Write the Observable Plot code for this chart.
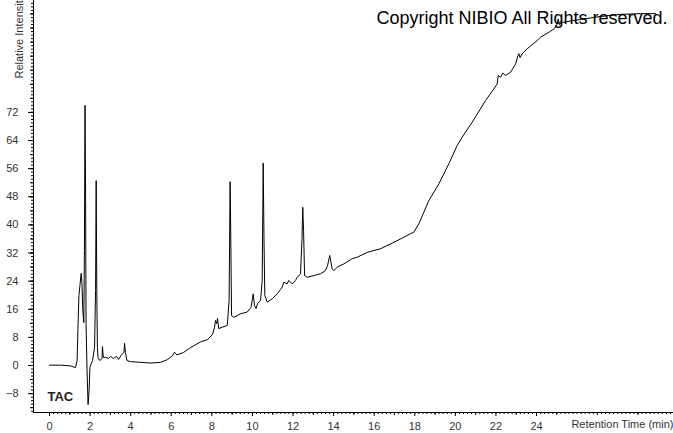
<!DOCTYPE html>
<html>
<head>
<meta charset="utf-8">
<script src="https://cdn.jsdelivr.net/npm/d3@7"></script>
<script src="https://cdn.jsdelivr.net/npm/@observablehq/plot@0.6"></script>
<style>
  html, body { margin: 0; padding: 0; background: #fff; }
  #chart svg { display: block; }
</style>
</head>
<body>
<div id="chart"></div>
<script>
// Retention time (min)
const retentionTime = [
  0, 0.54, 1.03, 1.28, 1.36, 1.40, 1.45, 1.50, 1.56, 1.60, 1.64, 1.69, 1.72, 1.75, 1.78, 1.80,
  1.85, 1.90, 1.95, 1.99, 2.06, 2.12, 2.22, 2.27, 2.30, 2.33, 2.36, 2.39, 2.48, 2.59, 2.61, 2.65,
  2.76, 2.91, 3.01, 3.15, 3.30, 3.40, 3.55, 3.67, 3.70, 3.74, 3.82, 3.99, 4.48, 4.98, 5.47, 5.82,
  6.06, 6.16, 6.28, 6.60, 6.95, 7.44, 7.79, 8.03, 8.13, 8.18, 8.24, 8.28, 8.34, 8.51, 8.76, 8.85,
  8.90, 8.94, 8.97, 9.08, 9.25, 9.41, 9.74, 9.93, 10.04, 10.10, 10.18, 10.25, 10.40, 10.48, 10.53,
  10.57, 10.61, 10.73, 10.98, 11.22, 11.38, 11.47, 11.55, 11.71, 11.79, 11.96, 12.12, 12.21, 12.37,
  12.44, 12.48, 12.52, 12.57, 12.70, 13.03, 13.36, 13.60, 13.70, 13.81, 13.87, 13.93, 14.01, 14.18,
  14.50, 14.92, 15.16, 15.66, 16.31, 16.81, 17.30, 17.79, 17.95, 18.20, 18.69, 19.19, 19.68, 20.09,
  20.34, 20.83, 21.49, 21.90, 22.06, 22.11, 22.23, 22.34, 22.47, 22.72, 22.97, 23.09, 23.13, 23.19, 23.31,
  23.54, 24.04, 24.20, 24.61, 24.89, 25.02, 25.07, 25.12, 25.28, 25.68, 26.33, 27.16, 28.14, 29.13, 29.87
];
// Relative intensity
const relativeIntensity = [
  0.1, 0.1, -0.1, -0.6, 1.4, 10.0, 19.9, 22.8, 26.2, 23.3, 15.6, 12.2, 32.7, 74.0, 46.9, 11.9,
  -1.4, -11.1, -7.1, -0.6, 0.6, 1.4, 5.1, 21.3, 52.6, 21.3, 5.1, 2.3, 1.4, 2.0, 5.4, 2.3,
  2.3, 2.0, 2.6, 2.0, 2.6, 1.7, 3.1, 3.7, 6.3, 3.7, 1.4, 1.1, 0.9, 0.7, 0.9, 1.7,
  2.8, 3.8, 3.0, 3.7, 5.1, 6.7, 7.4, 8.8, 10.8, 12.8, 11.9, 13.4, 10.5, 10.9, 11.4, 18.5,
  52.3, 32.7, 14.2, 13.7, 14.2, 14.7, 15.2, 16.5, 20.4, 17.1, 16.2, 17.6, 18.5, 24.2, 57.6,
  35.6, 19.9, 18.0, 19.0, 20.4, 21.6, 22.3, 23.7, 23.2, 24.2, 23.2, 24.2, 25.1, 26.1,
  35.6, 45.0, 38.4, 25.6, 25.1, 25.6, 26.1, 27.0, 28.4, 31.3, 29.3, 27.5, 27.0, 28.0,
  28.9, 30.4, 30.8, 32.2, 33.2, 34.6, 36.0, 37.5, 37.9, 40.3, 46.9, 51.7, 57.4, 62.6,
  65.0, 69.2, 75.4, 78.7, 80.1, 82.5, 82.0, 83.2, 82.5, 83.4, 85.8, 88.2, 88.7, 87.6, 88.8,
  90.1, 92.5, 93.4, 94.8, 95.9, 97.2, 98.6, 97.0, 97.6, 98.0, 98.6, 99.3, 99.9, 100.1, 100.1
];
const xTickLabels = [0, 2, 4, 6, 8, 10, 12, 14, 16, 18, 20, 22, 24];
const yTickLabels = [-8, 0, 8, 16, 24, 32, 40, 48, 56, 64, 72];

const data = retentionTime.map((t, i) => ({t, v: relativeIntensity[i]}));

const xDomain = [-0.789, 30.75];
const yDomain = [-13.37, 103.84];
const xMinor = d3.range(0, 30.75, 0.2);
const xMid = d3.range(1, 30.75, 2);
const yMinor = d3.range(-13, 103.9, 1);
const yMid = d3.range(-12, 103.9, 4);

const font = "Arial, 'Liberation Sans', sans-serif";

const chart = Plot.plot({
  width: 673,
  height: 433,
  marginLeft: 33,
  marginRight: 0,
  marginTop: 0,
  marginBottom: 21,
  style: {fontFamily: font, fontSize: "11px", background: "#fff", overflow: "hidden"},
  x: {domain: xDomain, axis: null},
  y: {domain: yDomain, axis: null},
  marks: [
    Plot.ruleX([xDomain[0]], {stroke: "#000", strokeWidth: 1}),
    Plot.ruleY([yDomain[0]], {stroke: "#000", strokeWidth: 1}),
    Plot.axisX({ticks: xMinor, tickSize: 2, text: null, stroke: "#000", label: null}),
    Plot.axisX({ticks: xMid, tickSize: 3, text: null, stroke: "#000", label: null}),
    Plot.axisX({ticks: xTickLabels, tickSize: 4, tickPadding: 6, fill: "#333", stroke: "#000", label: null}),
    Plot.axisY({ticks: yMinor, tickSize: 2, text: null, stroke: "#000", anchor: "left", label: null}),
    Plot.axisY({ticks: yMid, tickSize: 3, text: null, stroke: "#000", anchor: "left", label: null}),
    Plot.axisY({ticks: yTickLabels, tickSize: 5, tickPadding: 10, fill: "#333", stroke: "#000", anchor: "left", label: null}),
    Plot.text(["Retention Time (min)"], {frameAnchor: "bottom-right", dx: 0, dy: 15, textAnchor: "end", fill: "#333", fontSize: 11}),
    Plot.text(["Relative Intensity"], {frameAnchor: "top-left", dx: -18, dy: 78, rotate: -90, textAnchor: "start", fill: "#333", fontSize: 11}),
    Plot.text(["Copyright NIBIO All Rights reserved."], {frameAnchor: "top-left", dx: 343, dy: 11, textAnchor: "start", fill: "#000", fontSize: 18}),
    Plot.text(["TAC"], {frameAnchor: "top-left", dx: 14, dy: 391, textAnchor: "start", fill: "#222", fontSize: 13, fontWeight: "bold"}),
    Plot.line(data, {x: "t", y: "v", stroke: "#000", strokeWidth: 1})
  ]
});
document.getElementById("chart").appendChild(chart);
</script>
</body>
</html>
